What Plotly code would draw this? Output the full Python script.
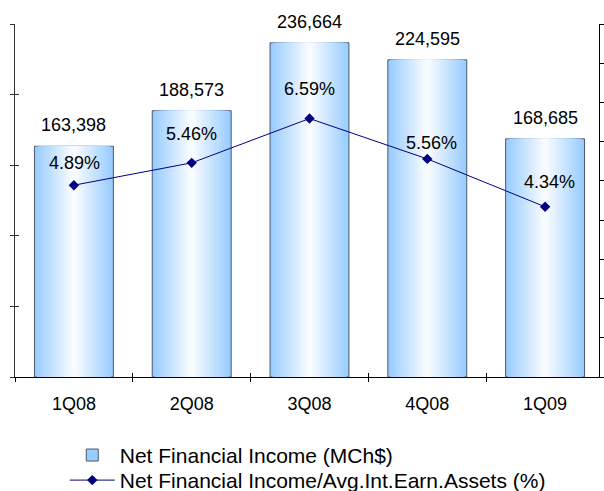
import plotly.graph_objects as go

# ---- data ----
quarters = ["1Q08", "2Q08", "3Q08", "4Q08", "1Q09"]
net_fin_income = [163398, 188573, 236664, 224595, 168685]          # MCh$
nfi_ratio = [4.89, 5.46, 6.59, 5.56, 4.34]                          # %

bar_name = "Net Financial Income (MCh$)"
line_name = "Net Financial Income/Avg.Int.Earn.Assets (%)"

# ---- style ----
FONT = "Liberation Sans, Arial, sans-serif"
BAR_W = 0.67
N_LAYERS = 16
EDGE = (153, 204, 255)
CENTER = (255, 255, 255)
pct_label_yshift = [22, 29, 30, 16, 25]
pct_label_xshift = [1, 0, 0, 4, 4]

fig = go.Figure()

# gradient bars built from overlaid bar layers (outer first)
for k in range(N_LAYERS):
    t = k / N_LAYERS
    c = tuple(round(EDGE[i] + (CENTER[i] - EDGE[i]) * t) for i in range(3))
    outer = k == 0
    fig.add_trace(go.Bar(
        x=quarters, y=net_fin_income,
        width=BAR_W * (1 - t),
        name=bar_name,
        showlegend=outer,
        legend="legend",
        hoverinfo="skip" if not outer else None,
        marker=dict(color="rgb(%d,%d,%d)" % c,
                    line=dict(color="#4d5866" if outer else "rgba(0,0,0,0)",
                              width=1 if outer else 0)),
    ))

fig.add_trace(go.Scatter(
    x=quarters, y=nfi_ratio, yaxis="y2", name=line_name,
    mode="lines+markers", legend="legend2",
    line=dict(color="#000080", width=1),
    marker=dict(symbol="diamond", size=8, color="#000080"),
))

# empty helper trace so the overlay tick axes are drawn
fig.add_trace(go.Scatter(x=[None], y=[None], xaxis="x3", yaxis="y3",
                         showlegend=False, hoverinfo="skip", mode="markers"))

annotations = []
for q, v in zip(quarters, net_fin_income):
    annotations.append(dict(x=q, y=v, xref="x", yref="y", text=f"{v:,}",
                            showarrow=False, yanchor="middle", yshift=21,
                            font=dict(family=FONT, size=18, color="#000")))
for q, p, ys, xs in zip(quarters, nfi_ratio, pct_label_yshift, pct_label_xshift):
    annotations.append(dict(x=q, y=p, xref="x", yref="y2", text=f"{p:.2f}%",
                            showarrow=False, yanchor="middle", yshift=ys, xshift=xs,
                            font=dict(family=FONT, size=18, color="#000")))

legend_style = dict(orientation="v", xanchor="left", yanchor="top",
                    font=dict(family=FONT, size=21, color="#000"),
                    itemwidth=45, tracegroupgap=0, bgcolor="rgba(0,0,0,0)")

fig.update_layout(
    width=604, height=491,
    margin=dict(l=15, r=0, t=24, b=114, autoexpand=False),
    paper_bgcolor="white", plot_bgcolor="white",
    barmode="overlay",
    font=dict(family=FONT, size=18, color="#000"),
    annotations=annotations,
    showlegend=True,
    legend=dict(x=0.0845, y=-0.164, **legend_style),
    legend2=dict(x=0.0845, y=-0.235, **legend_style),
    xaxis=dict(type="category", showline=True, linecolor="#000", linewidth=1,
               ticks="outside", ticklen=4, tickcolor="#000", tickson="boundaries",
               showgrid=False, zeroline=False, ticklabelstandoff=10,
               range=[-0.5, 4.5], fixedrange=True),
    yaxis=dict(range=[0, 250000], dtick=50000, showline=True, linecolor="#333",
               linewidth=1, ticks="outside", ticklen=4, tickcolor="#333",
               showticklabels=False, showgrid=False, zeroline=False),
    yaxis2=dict(range=[0, 9], dtick=1, overlaying="y", side="right",
                anchor="free", position=0.9915,
                showline=True, linecolor="#000", linewidth=1, ticks="outside",
                ticklen=5, tickcolor="#000", showticklabels=False,
                showgrid=False, zeroline=False),
    # overlay axes to give the cross-style ticks on the inside
    xaxis3=dict(overlaying="x", anchor="y3", range=[-0.5, 4.5], tickmode="linear",
                tick0=-0.5, dtick=1, ticks="inside", ticklen=4, tickcolor="#000",
                showticklabels=False, showline=False, showgrid=False, zeroline=False),
    yaxis3=dict(overlaying="y", anchor="x3", range=[0, 250000], tickmode="linear",
                tick0=0, dtick=50000, ticks="inside", ticklen=4, tickcolor="#333",
                showticklabels=False, showline=False, showgrid=False, zeroline=False),
)

fig.write_html("out.html",
               config={"displayModeBar": False},
               post_script="document.body.style.margin='0px';")
